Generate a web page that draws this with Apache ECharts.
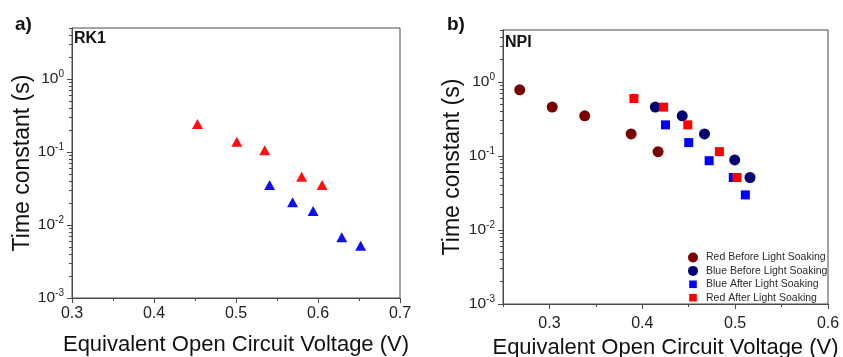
<!DOCTYPE html>
<html><head><meta charset="utf-8">
<script src="https://cdn.jsdelivr.net/npm/echarts@6/dist/echarts.min.js"></script>
<style>html,body{margin:0;padding:0;background:#fff}#c{width:843px;height:357px}</style>
</head><body><div id="c"></div>
<script>
// ---- data ----
const rk1RedX = [0.453, 0.501, 0.535, 0.580, 0.605];
const rk1RedY = [0.242, 0.138, 0.106, 0.0459, 0.0353];
const rk1BlueX = [0.541, 0.569, 0.594, 0.629, 0.652];
const rk1BlueY = [0.0353, 0.0205, 0.0156, 0.0068, 0.0052];

const npiRedBeforeX = [0.268, 0.303, 0.338, 0.388, 0.417];
const npiRedBeforeY = [0.78, 0.455, 0.347, 0.198, 0.114];
const npiBlueBeforeX = [0.414, 0.443, 0.467, 0.4995, 0.516];
const npiBlueBeforeY = [0.455, 0.347, 0.198, 0.088, 0.051];
const npiBlueAfterX = [0.425, 0.450, 0.472, 0.498, 0.511];
const npiBlueAfterY = [0.262, 0.151, 0.086, 0.051, 0.0297];
const npiRedAfterX = [0.391, 0.423, 0.449, 0.483, 0.502];
const npiRedAfterY = [0.595, 0.455, 0.262, 0.114, 0.051];

const seriesNames = ['Red Before Light Soaking', 'Blue Before Light Soaking', 'Blue After Light Soaking', 'Red After Light Soaking'];
const panelLabels = ['a)', 'b)'];
const panelNames = ['RK1', 'NPI'];
const xTitle = 'Equivalent Open Circuit Voltage (V)';
const yTitle = 'Time constant (s)';

const yMajorTicks = [0.001, 0.01, 0.1, 1];
const yMinorTicks = [0.002, 0.003, 0.004, 0.005, 0.006, 0.007, 0.008, 0.009,
  0.02, 0.03, 0.04, 0.05, 0.06, 0.07, 0.08, 0.09,
  0.2, 0.3, 0.4, 0.5, 0.6, 0.7, 0.8, 0.9,
  2, 3, 4, 5];
const xMajorA = [0.3, 0.4, 0.5, 0.6, 0.7];
const xMinorA = [0.35, 0.45, 0.55, 0.65];
const xMajorB = [0.3, 0.4, 0.5, 0.6];
const xMinorB = [0.25, 0.35, 0.45, 0.55];

const zip = (xs, ys) => xs.map((x, i) => [x, ys[i]]);

const FONT = 'Liberation Sans, Arial, sans-serif';
const AX = '#4a4a4a';
const SQUARE_ICON = 'path://M0,0M10,10M1.2,1.2H8.8V8.8H1.2Z';

function xMajor(idx, min, max, ticks, nameGap, labelMargin) {
  return {
    type: 'value', gridIndex: idx, min: min, max: max,
    name: xTitle, nameLocation: 'middle', nameGap: nameGap,
    nameTextStyle: { fontFamily: FONT, fontSize: 22, color: '#111' },
    axisLine: { lineStyle: { color: AX, width: 1 } },
    axisTick: { show: true, length: 5, customValues: ticks, lineStyle: { color: AX } },
    axisLabel: { customValues: ticks, margin: labelMargin, fontFamily: FONT, fontSize: 16, color: '#222',
      formatter: v => Number(v).toFixed(1) },
    splitLine: { show: false }
  };
}
function xMinor(idx, min, max, ticks) {
  return {
    type: 'value', gridIndex: idx, min: min, max: max, position: 'bottom',
    axisLine: { show: false },
    axisTick: { show: true, length: 3, customValues: ticks, lineStyle: { color: AX } },
    axisLabel: { show: false },
    splitLine: { show: false }
  };
}
function yMajor(idx, nameGap) {
  return {
    type: 'log', logBase: 10, gridIndex: idx, min: 0.001, max: 5, position: 'left',
    name: yTitle, nameLocation: 'middle', nameGap: nameGap,
    nameTextStyle: { fontFamily: FONT, fontSize: 23, color: '#111' },
    axisLine: { show: true, lineStyle: { color: AX, width: 1 } },
    axisTick: { show: true, length: 5, customValues: yMajorTicks, lineStyle: { color: AX } },
    axisLabel: {
      customValues: yMajorTicks, margin: 8, fontFamily: FONT, fontSize: 15.5, color: '#222',
      formatter: v => {
        const e = Math.log10(v);
        if (Math.abs(e - Math.round(e)) > 1e-6) return '';
        return '10{sup|' + Math.round(e) + '}';
      },
      rich: { sup: { fontFamily: FONT, fontSize: 10, color: '#222', padding: [0, 0, 10, 0] } }
    },
    splitLine: { show: false }
  };
}
function yMinor(idx) {
  return {
    type: 'log', logBase: 10, gridIndex: idx, min: 0.001, max: 5, position: 'left',
    axisLine: { show: false },
    axisTick: { show: true, length: 3, customValues: yMinorTicks, lineStyle: { color: AX } },
    axisLabel: { show: false },
    splitLine: { show: false }
  };
}

const option = {
  animation: false,
  backgroundColor: '#fff',
  title: [
    { text: panelLabels[0], left: 15, top: 15, padding: 0, textStyle: { fontFamily: FONT, fontSize: 19, fontWeight: 'bold', color: '#111' } },
    { text: panelLabels[1], left: 447, top: 15, padding: 0, textStyle: { fontFamily: FONT, fontSize: 19, fontWeight: 'bold', color: '#111' } },
    { text: panelNames[0], left: 74, top: 31, padding: 0, textStyle: { fontFamily: FONT, fontSize: 16, fontWeight: 'bold', color: '#111' } },
    { text: panelNames[1], left: 505, top: 35, padding: 0, textStyle: { fontFamily: FONT, fontSize: 16, fontWeight: 'bold', color: '#111' } }
  ],
  grid: [
    { left: 72, top: 28, width: 328, height: 270, show: true, borderColor: AX, borderWidth: 1, backgroundColor: 'transparent',
      containLabel: false, outerBoundsMode: 'none' },
    { left: 503, top: 30, width: 325, height: 274, show: true, borderColor: AX, borderWidth: 1, backgroundColor: 'transparent',
      containLabel: false, outerBoundsMode: 'none' }
  ],
  xAxis: [
    xMajor(0, 0.3, 0.7, xMajorA, 36, 8),
    xMajor(1, 0.25, 0.6, xMajorB, 31, 12),
    xMinor(0, 0.3, 0.7, xMinorA),
    xMinor(1, 0.25, 0.6, xMinorB)
  ],
  yAxis: [yMajor(0, 37), yMajor(1, 39), yMinor(0), yMinor(1)],
  legend: {
    data: [
      { name: seriesNames[0], icon: 'circle' },
      { name: seriesNames[1], icon: 'circle' },
      { name: seriesNames[2], icon: SQUARE_ICON },
      { name: seriesNames[3], icon: SQUARE_ICON }
    ],
    orient: 'vertical', left: 688, top: 252,
    itemWidth: 10, itemHeight: 10, itemGap: 2.4,
    padding: 0,
    textStyle: { fontFamily: FONT, fontSize: 10.5, color: '#2a2a2a', padding: [0, 0, 0, 3], lineHeight: 11 }
  },
  series: [
    { type: 'scatter', xAxisIndex: 0, yAxisIndex: 0, symbol: 'triangle', symbolSize: [11, 10],
      itemStyle: { color: '#ff1010', opacity: 1 }, data: zip(rk1RedX, rk1RedY) },
    { type: 'scatter', xAxisIndex: 0, yAxisIndex: 0, symbol: 'triangle', symbolSize: [11, 10],
      itemStyle: { color: '#1010ee', opacity: 1 }, data: zip(rk1BlueX, rk1BlueY) },
    { name: seriesNames[0], type: 'scatter', xAxisIndex: 1, yAxisIndex: 1, symbol: 'circle', symbolSize: 11,
      itemStyle: { color: '#7a0000', opacity: 1 }, data: zip(npiRedBeforeX, npiRedBeforeY) },
    { name: seriesNames[1], type: 'scatter', xAxisIndex: 1, yAxisIndex: 1, symbol: 'circle', symbolSize: 11,
      itemStyle: { color: '#000070', opacity: 1 }, data: zip(npiBlueBeforeX, npiBlueBeforeY) },
    { name: seriesNames[2], type: 'scatter', xAxisIndex: 1, yAxisIndex: 1, symbol: 'rect', symbolSize: 9,
      itemStyle: { color: '#0000ff', opacity: 1 }, data: zip(npiBlueAfterX, npiBlueAfterY) },
    { name: seriesNames[3], type: 'scatter', xAxisIndex: 1, yAxisIndex: 1, symbol: 'rect', symbolSize: 9,
      itemStyle: { color: '#ff0000', opacity: 1 }, data: zip(npiRedAfterX, npiRedAfterY) }
  ]
};

const chart = echarts.init(document.getElementById('c'), null, { renderer: 'canvas' });
chart.setOption(option);
</script>
</body></html>
